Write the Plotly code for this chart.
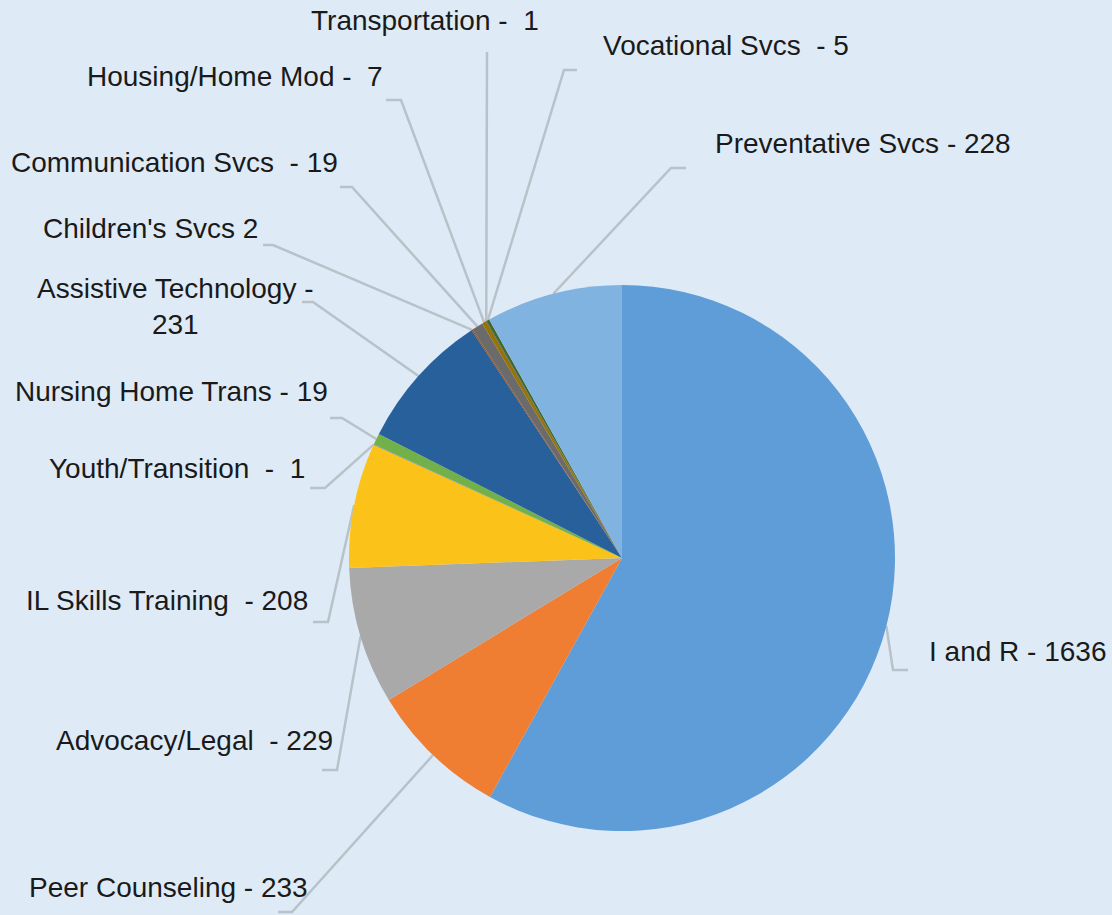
import math
import plotly.graph_objects as go

# ---- data ----
categories = ["I and R", "Peer Counseling", "Advocacy/Legal", "IL Skills Training",
              "Youth/Transition", "Nursing Home Trans", "Assistive Technology",
              "Children's Svcs", "Communication Svcs", "Housing/Home Mod",
              "Transportation", "Vocational Svcs", "Preventative Svcs"]
values = [1636, 233, 229, 208, 1, 19, 231, 2, 19, 7, 1, 5, 228]
label_texts = ["I and R - 1636", "Peer Counseling - 233", "Advocacy/Legal\u00a0 - 229",
               "IL Skills Training\u00a0 - 208", "Youth/Transition\u00a0 - \u00a01",
               "Nursing Home Trans - 19", "Assistive Technology -<br>231",
               "Children's Svcs 2", "Communication Svcs\u00a0 - 19",
               "Housing/Home Mod - \u00a07", "Transportation - \u00a01",
               "Vocational Svcs\u00a0 - 5", "Preventative Svcs - 228"]

# ---- styles ----
colors = ["#5f9dd8", "#ef7d32", "#a9a9a9", "#fbc21a", "#4472c4", "#72b14a",
          "#27609a", "#9e480e", "#6b6b6b", "#997300", "#264478", "#43682b", "#80b3e0"]
BG = "#deebf7"
LINE = "#b9c1c9"
W, H = 1112, 915
CX, CY, R = 622, 558, 273

# label layout: (x, y, xanchor) and leader elbow/end points
label_pos = [(927, 651, "left"), (310, 887, "right"), (335, 740, "right"),
             (310, 600, "right"), (307, 468, "right"), (330, 391, "right"),
             (175, 306, "center"), (260, 228, "right"), (340, 162, "right"),
             (385, 76, "right"), (541, 20, "right"), (601, 45, "left"),
             (713, 143, "left")]
elbows = [(893, 670), (292, 912), (337, 770), (328, 622), (325, 488), (342, 418),
          (313, 302), (273, 245), (352, 187), (401, 100), (487, 52), (564, 70),
          (671, 168)]
ends = [(908, 670), (278, 912), (322, 770), (313, 622), (310, 488), (330, 418),
        (302, 302), (263, 245), (340, 187), (386, 100), (487, 52), (577, 70),
        (686, 168)]

fig = go.Figure()

total = sum(values)
cum = 0
for i, v in enumerate(values):
    mid = (cum + v / 2) / total * 2 * math.pi
    cum += v
    ex = CX + R * math.sin(mid)
    ey = CY - R * math.cos(mid)
    fig.add_trace(go.Scatter(
        x=[ex, elbows[i][0], ends[i][0]], y=[ey, elbows[i][1], ends[i][1]],
        mode="lines", line=dict(color=LINE, width=2.5), hoverinfo="skip",
        showlegend=False, xaxis="x", yaxis="y"))

fig.add_trace(go.Pie(
    labels=categories, values=values, sort=False, direction="clockwise",
    rotation=0, textinfo="none", showlegend=False,
    marker=dict(colors=colors, line=dict(width=0)),
    domain=dict(x=[(CX - R) / W, (CX + R) / W],
                y=[(H - CY - R) / H, (H - CY + R) / H])))

for i, t in enumerate(label_texts):
    x, y, xa = label_pos[i]
    fig.add_annotation(x=x, y=y, xref="x", yref="y", text=t, showarrow=False,
                       xanchor=xa, yanchor="middle", align="center",
                       font=dict(family="Liberation Sans, Arial", size=28, color="#1a1a1a"))

fig.update_layout(
    width=W, height=H, margin=dict(l=0, r=0, t=0, b=0),
    paper_bgcolor=BG, plot_bgcolor=BG,
    xaxis=dict(range=[0, W], visible=False, domain=[0, 1], fixedrange=True),
    yaxis=dict(range=[H, 0], visible=False, domain=[0, 1], fixedrange=True),
)

fig.write_html("out.html", config={"displayModeBar": False},
               post_script="document.body.style.margin='0';"
                           "document.body.style.background='" + BG + "';"
                           "document.body.style.overflow='hidden';")
